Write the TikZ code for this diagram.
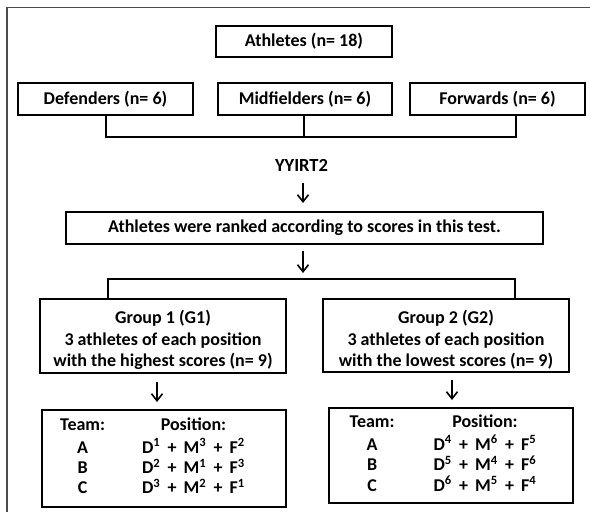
\documentclass[tikz,border=0pt]{standalone}
\usepackage{fontspec}
\setmainfont{Carlito}
\usetikzlibrary{arrows.meta}

\newcommand{\pl}{\hspace{0.4em}+\hspace{0.4em}}

\begin{document}
\begin{tikzpicture}[x=1pt,y=-1pt,
  box/.style={draw,line width=2pt,inner sep=0pt,align=center,
    font=\bfseries\fontsize{18}{21.5}\selectfont},
  teambox/.style={box,minimum width=244pt,font=\bfseries\fontsize{18}{19}\selectfont},
  link/.style={line width=2pt},
  down/.style={line width=1.6pt,-{Straight Barb[length=7pt,width=11pt]}}]
  \useasboundingbox (0,0) rectangle (590,512);

  % Frame
  \draw[gray!60!black,line width=1.5pt] (7,512) -- (7,7.5) -- (590,7.5);

  % All athletes
  \node[box,minimum width=176pt,minimum height=31pt] (ath) at (304,41.5) {Athletes (n= 18)};

  % Positions
  \node[box,minimum width=175pt,minimum height=32pt] (def) at (105.5,99) {Defenders (n= 6)};
  \node[box,minimum width=174pt,minimum height=32pt] (mid) at (305,99) {Midfielders (n= 6)};
  \node[box,minimum width=175pt,minimum height=32pt] (fwd) at (497.5,99) {Forwards (n= 6)};

  % Joining the positions
  \coordinate (j1) at (304,137);
  \coordinate (fwdj) at ([xshift=18.5pt]fwd.south);
  \draw[link] (def.south) |- (fwdj |- j1) -- (fwdj);
  \draw[link] (j1 |- mid.south) -- (j1);

  % Test
  \node[font=\bfseries\fontsize{18.5}{20}\selectfont] (yy) at (301.5,165) {YYIRT2};
  \node[box,minimum width=477pt,minimum height=32pt] (rank) at (304.5,228) {Athletes were ranked according to scores in this test.};
  \draw[down,shorten <=8pt,shorten >=8pt] (yy.south -| 303,0) -- (rank.north -| 303,0);

  % Groups
  \coordinate (j2) at (303,279);
  \node[box,minimum width=246pt,minimum height=74pt] (g1) at (163,336) {\rule{0pt}{22pt}Group 1 (G1)\\3 athletes of each position\\with the highest scores (n= 9)};
  \node[box,minimum width=246pt,minimum height=73pt] (g2) at (446,335.5) {\rule{0pt}{22pt}Group 2 (G2)\\3 athletes of each position\\with the lowest scores (n= 9)};
  \draw[down,shorten <=6pt,shorten >=6pt] (rank.south -| j2) -- (j2);
  \coordinate (g1j) at ([xshift=-55pt]g1.north);
  \coordinate (g2j) at ([xshift=69pt]g2.north);
  \draw[link] (g1j) |- (j2) -| (g2j);

  % Teams
  \node[teambox,minimum height=97pt] (team1) at (164,458.5) {%
    \begin{tabular}{@{}c@{\hspace{37pt}}c@{}}
      Team: & Position:\\[2pt]
      A & D\textsuperscript{1}\pl M\textsuperscript{3}\pl F\textsuperscript{2}\\
      B & D\textsuperscript{2}\pl M\textsuperscript{1}\pl F\textsuperscript{3}\\
      C & D\textsuperscript{3}\pl M\textsuperscript{2}\pl F\textsuperscript{1}
    \end{tabular}\hspace*{23pt}};
  \node[teambox,minimum height=95pt] (team2) at (451,455.5) {%
    \begin{tabular}{@{}c@{\hspace{39pt}}c@{}}
      Team: & Position:\\[2pt]
      A & D\textsuperscript{4}\pl M\textsuperscript{6}\pl F\textsuperscript{5}\\
      B & D\textsuperscript{5}\pl M\textsuperscript{4}\pl F\textsuperscript{6}\\
      C & D\textsuperscript{6}\pl M\textsuperscript{5}\pl F\textsuperscript{4}
    \end{tabular}\hspace*{16pt}};
  \draw[down,shorten <=8pt,shorten >=7pt] (g1.south -| 157,0) -- (team1.north -| 157,0);
  \draw[down,shorten <=7pt,shorten >=7pt] (g2.south -| 452,0) -- (team2.north -| 452,0);
\end{tikzpicture}
\end{document}
